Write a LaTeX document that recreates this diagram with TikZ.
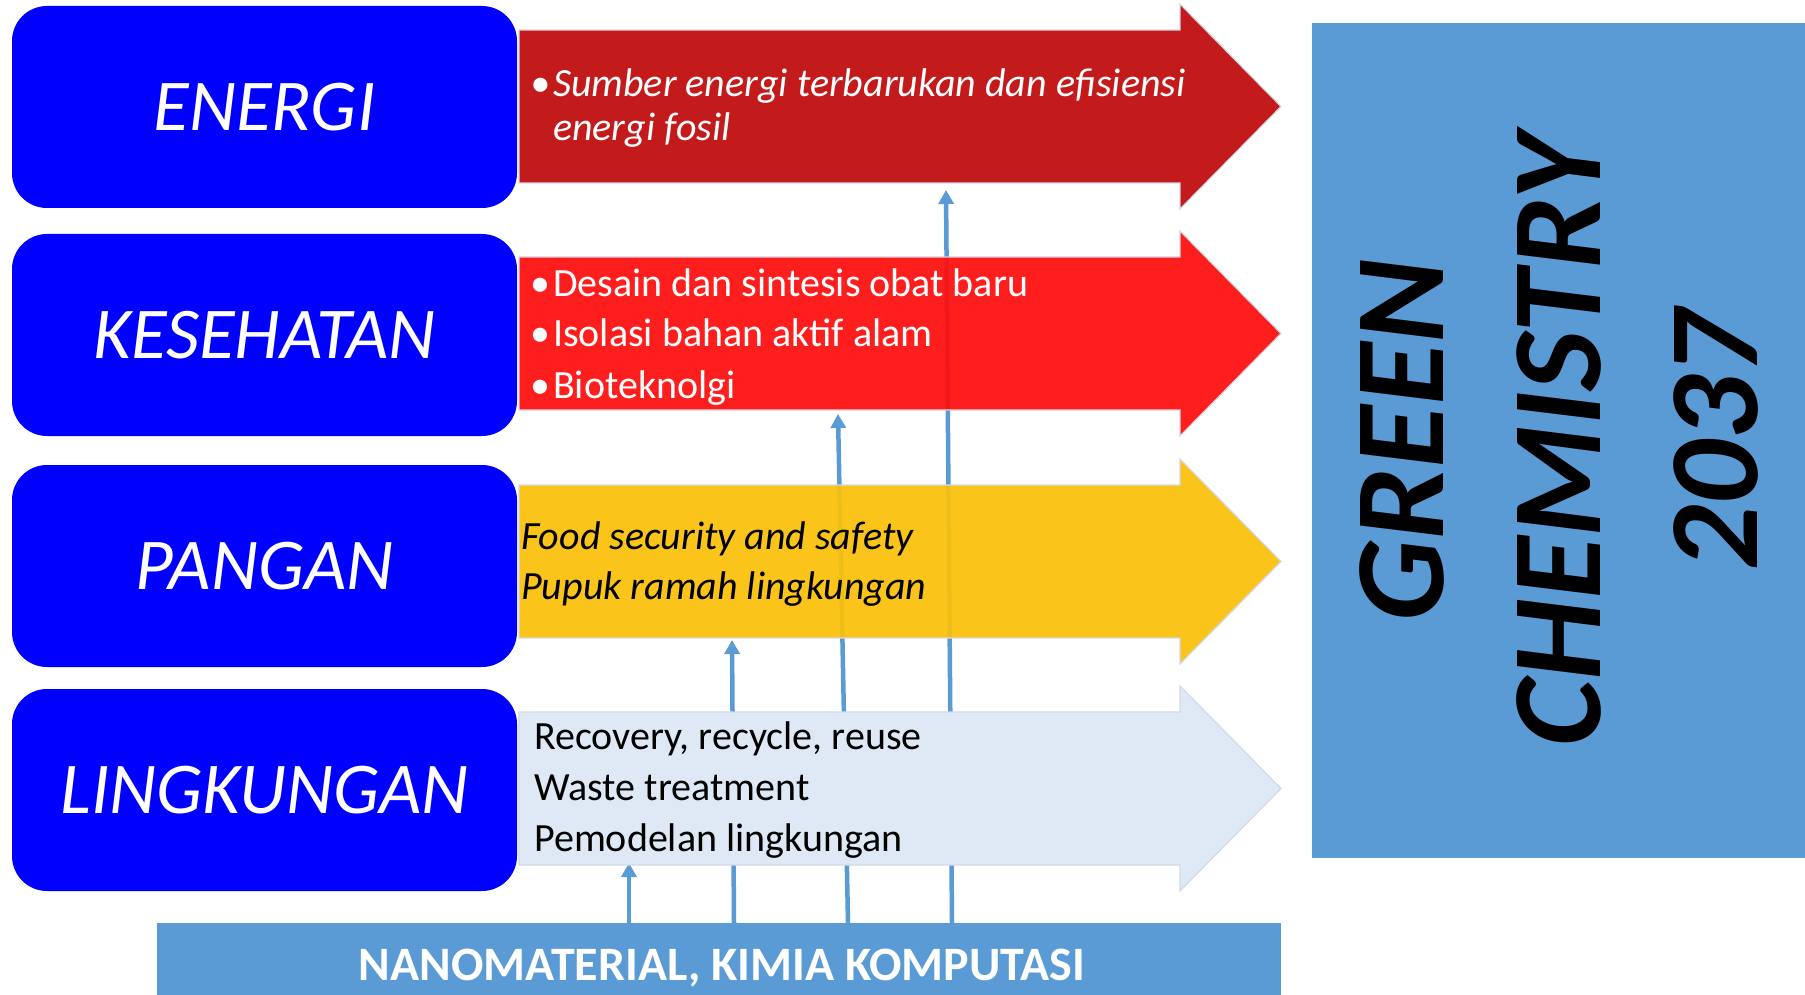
\documentclass[tikz,border=0pt]{standalone}
\usepackage{fontspec}
\setmainfont{Carlito}
\usetikzlibrary{arrows.meta}
\definecolor{boxblue}{HTML}{0000FF}
\definecolor{energired}{HTML}{C31A1B}
\definecolor{kesred}{HTML}{FF0D0D}
\definecolor{panyellow}{HTML}{FBC00A}
\definecolor{linglight}{HTML}{DEE9F5}
\definecolor{steel}{HTML}{5B9BD5}
\definecolor{edgegray}{HTML}{D3DAE6}
\newcommand\bandarrow[2]{%
  \filldraw[#1] (519,#2) -- (1180,#2) -- (1180,#2-26) -- (1281,#2+76.5)
    -- (1180,#2+179) -- (1180,#2+153) -- (519,#2+153) -- cycle;}
\begin{document}
\begin{tikzpicture}[x=1pt,y=-1pt,
  titlebox/.style={fill=boxblue, rounded corners=35pt, minimum width=505pt,
    minimum height=202pt, inner sep=0pt, text=white,
    font=\fontsize{73}{85}\selectfont\itshape},
  conn/.style={draw=steel, line width=4.5pt,
    -{Triangle[width=15pt,length=14pt]}},
  band/.style={draw=edgegray, line width=1.2pt},
  txt/.style={anchor=base west, inner sep=0pt}]
\useasboundingbox (0,0) rectangle (1805,995);

% left title boxes
\node[titlebox] (energi) at (264.5,107) {ENERGI};
\node[titlebox] (kesehatan) at (264.5,335) {KESEHATAN};
\node[titlebox] (pangan) at (264.5,566) {PANGAN};
\node[titlebox] (lingkungan) at (264.5,790) {LINGKUNGAN};

% bottom bar
\node[fill=steel, minimum width=1124pt, minimum height=72pt, inner sep=0pt]
  (bar) at (719,959) {};
\node[text=white, inner sep=0pt, anchor=base,
  font=\fontsize{48}{54}\selectfont\bfseries]
  (bartext) at (722,980) {NANOMATERIAL, KIMIA KOMPUTASI};

% connector end points
\coordinate (s1) at (629,923);  \coordinate (e1) at (629,863);
\coordinate (s2) at (734,923);  \coordinate (e2) at (732,640);
\coordinate (s3) at (848,923);  \coordinate (e3) at (838,414);
\coordinate (s4) at (952,923);  \coordinate (e4) at (946,190);

\draw[conn] (s1) -- (e1);
\draw[conn] (s2) -- (e2);
\draw[conn] (s3) -- (e3);
\draw[conn] (s4) -- (e4);

% band arrows
\bandarrow{band, fill=energired}{30}
\bandarrow{band, fill=kesred, fill opacity=0.93}{257}
\bandarrow{band, fill=panyellow, fill opacity=0.93}{485}
\bandarrow{band, fill=linglight}{712}

% texts in the bands
\node[txt, text=white, font=\fontsize{40}{44}\selectfont\itshape] (t1) at (530,97)
  {\begin{tabular}[t]{@{}l@{\hspace{3pt}}l@{}}\textbullet & Sumber energi terbarukan dan efisiensi\\ & energi fosil\end{tabular}};
\node[txt, text=white, font=\fontsize{40}{51}\selectfont] (t2) at (530,296)
  {\begin{tabular}[t]{@{}l@{\hspace{3pt}}l@{}}\textbullet & Desain dan sintesis obat baru\\ \textbullet & Isolasi bahan aktif alam\\ \textbullet & Bioteknolgi\end{tabular}};
\node[txt, text=black, font=\fontsize{40}{50}\selectfont\itshape] (t3) at (521,549)
  {\begin{tabular}[t]{@{}l@{}}Food security and safety\\ Pupuk ramah lingkungan\end{tabular}};
\node[txt, text=black, font=\fontsize{40}{51}\selectfont] (t4) at (534,749)
  {\begin{tabular}[t]{@{}l@{}}Recovery, recycle, reuse\\ Waste treatment\\ Pemodelan lingkungan\end{tabular}};

% green chemistry box
\node[fill=steel, minimum width=493pt, minimum height=835pt, inner sep=0pt]
  (gc) at (1558.5,440.5) {};
\node[rotate=90, align=center, text=black, inner sep=0pt,
  font=\fontsize{128}{157}\selectfont\bfseries\itshape]
  (gct) at (gc.center) {GREEN\\CHEMISTRY\\2037};
\end{tikzpicture}
\end{document}
